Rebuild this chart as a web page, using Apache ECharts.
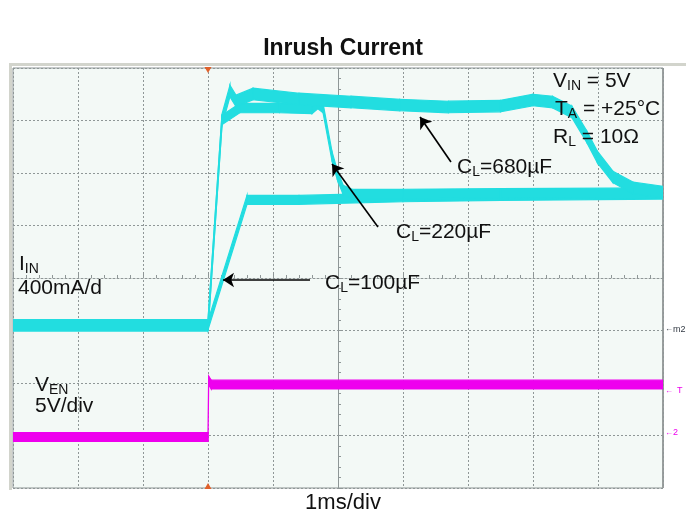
<!DOCTYPE html>
<html><head><meta charset="utf-8">
<script src="https://cdn.jsdelivr.net/npm/echarts@6/dist/echarts.min.js"></script>
<style>html,body{margin:0;padding:0;background:#fff}#c{width:686px;height:529px}</style>
</head><body><div id="c"></div>
<script>
// time in ms relative to enable edge; current in mA; voltage in V
const timeRange = [-3, 7];
const currentRange = [-1200, 2000];   // 400 mA/div
const voltageRange = [-5, 35];        // 5 V/div
const cl100 = [[-3,40],[0,40],[0.6,995],[1.4,995],[3,1015],[4.5,1025],[7,1035]];
const cl220 = [[-3,40],[0,40],[0.215,1604],[0.49,1695],[1.1,1695],[1.6,1688],[1.69,1726],[1.77,1695],[1.91,1322],[1.99,1185],[2.08,1070],[2.22,1040],[3,1040],[4.5,1045],[7,1050]];
const cl680 = [[-3,40],[0,40],[0.215,1604],[0.338,1825],[0.431,1749],[0.692,1802],[1.4,1764],[2.2,1741],[2.95,1718],[3.7,1703],[4.5,1710],[5.0,1756],[5.3,1741],[5.6,1665],[5.83,1474],[5.99,1322],[6.23,1170],[6.54,1086],[7,1055]];
const ven = [[-3,-0.15],[0,-0.15],[0.01,5.25],[0.05,4.85],[7,4.85]];
const noiseHalf = {cl100: 34, cl220: 36, cl680: 44, ven: 0.42}; // half trace thickness

const CYAN = '#22dde0', MAG = '#ee00ee', GRIDC = '#8f9797';
const FONT = '"Liberation Sans", Arial, sans-serif';

function band(key, data, color, yIdx){
  const h = noiseHalf[key];
  const segs = [];
  for (let i = 0; i < data.length - 1; i++) segs.push([data[i][0], data[i][1], data[i+1][0], data[i+1][1]]);
  return {
    type:'custom', name:key, yAxisIndex:yIdx, data:segs, clip:true, silent:true, z:3,
    encode:{x:[0,2], y:[1,3]},
    renderItem:function(params, api){
      const t0 = api.value(0), v0 = api.value(1), t1 = api.value(2), v1 = api.value(3);
      const pts = [api.coord([t0, v0 + h]), api.coord([t1, v1 + h]), api.coord([t1, v1 - h]), api.coord([t0, v0 - h])];
      return {type:'polygon', shape:{points:pts}, style:{fill:color, stroke:color, lineWidth:1.2}};
    }
  };
}

const series = [
  band('cl100', cl100, CYAN, 0),
  band('cl220', cl220, CYAN, 0),
  band('cl680', cl680, CYAN, 0),
  band('ven', ven, MAG, 1),
  {type:'line', data:[[timeRange[0], 0]], yAxisIndex:0, symbol:'none', lineStyle:{opacity:0}, silent:true, z:20,
    markLine:{silent:true, symbol:['none','arrow'], symbolSize:11, label:{show:false}, z:20,
      lineStyle:{color:'#000', width:1.6, type:'solid'},
      data:[
        [{coord:[3.738,1284]},{coord:[3.262,1627]}],
        [{coord:[2.615,789]},{coord:[1.908,1269]}],
        [{coord:[1.569,385]},{coord:[0.231,385]}]
      ]},
    markPoint:{silent:true, label:{show:false}, itemStyle:{color:'#e0602a'},
      data:[
        {coord:[0, currentRange[1]], symbol:'triangle', symbolRotate:180, symbolSize:[7,6], symbolOffset:[0,2]},
        {coord:[0, currentRange[0]], symbol:'triangle', symbolSize:[7,6], symbolOffset:[0,-2]}
      ]}
  }
];

const dashed = {color:GRIDC, type:[2,2], width:1};
const sub = function(main, s, rest){ return '{a|' + main + '}{s|' + s + '}' + (rest ? '{a|' + rest + '}' : ''); };
const rich = {a:{font:'21px '+FONT, fill:'#111', lineHeight:23}, s:{font:'14px '+FONT, fill:'#111', lineHeight:14, verticalAlign:'bottom'}};
const txt = function(x, y, style){ return {type:'text', x:x, y:y, z:100, silent:true, style:style}; };
const option = {
  animation:false,
  backgroundColor:'#ffffff',
  grid:{left:13, top:68, width:650, height:420, show:true, backgroundColor:'#f3f9f6', borderColor:'#8a9292', borderWidth:1},
  xAxis:[
    {type:'value', min:timeRange[0], max:timeRange[1], interval:1, axisLine:{show:false}, axisTick:{show:false}, axisLabel:{show:false}, splitLine:{show:true, lineStyle:dashed}},
    {type:'value', min:timeRange[0], max:timeRange[1], interval:1, position:'bottom', offset:-210,
     axisLine:{show:true, onZero:false, lineStyle:dashed}, axisTick:{show:true, inside:true, length:4, lineStyle:{color:GRIDC}},
     minorTick:{show:true, splitNumber:5, length:3, lineStyle:{color:GRIDC}}, axisLabel:{show:false}, splitLine:{show:false}}
  ],
  yAxis:[
    {type:'value', min:currentRange[0], max:currentRange[1], interval:400, axisLine:{show:false}, axisTick:{show:false}, axisLabel:{show:false}, splitLine:{show:true, lineStyle:dashed}},
    {type:'value', min:voltageRange[0], max:voltageRange[1], interval:5, show:false},
    {type:'value', min:currentRange[0], max:currentRange[1], interval:400, position:'left', offset:-325,
     axisLine:{show:true, onZero:false, lineStyle:dashed}, axisTick:{show:true, inside:true, length:4, lineStyle:{color:GRIDC}},
     minorTick:{show:true, splitNumber:5, length:3, lineStyle:{color:GRIDC}}, axisLabel:{show:false}, splitLine:{show:false}}
  ],
  series:series,
  graphic:[
    {type:'line', shape:{x1:10, y1:64.5, x2:686, y2:64.5}, style:{stroke:'#d2d4cc', lineWidth:3}, silent:true},
    {type:'line', shape:{x1:10.5, y1:63, x2:10.5, y2:490}, style:{stroke:'#d2d4cc', lineWidth:3}, silent:true},
    {type:'line', shape:{x1:663, y1:68, x2:663, y2:488}, style:{stroke:'#9a9e9e', lineWidth:2}, silent:true},
    {type:'text', left:'center', top:37, style:{text:'Inrush Current', font:'bold 23px '+FONT, fill:'#111'}},
    {type:'text', left:'center', top:492, style:{text:'1ms/div', font:'22px '+FONT, fill:'#111'}},
    txt(553, 70, {text:sub('V','IN',' = 5V'), rich:rich}),
    txt(555, 98, {text:sub('T','A',' = +25°C'), rich:rich}),
    txt(553, 126, {text:sub('R','L',' = 10Ω'), rich:rich}),
    txt(457, 156, {text:sub('C','L','=680µF'), rich:rich}),
    txt(396, 221, {text:sub('C','L','=220µF'), rich:rich}),
    txt(325, 272, {text:sub('C','L','=100µF'), rich:rich}),
    txt(19, 253, {text:sub('I','IN'), rich:rich}),
    txt(18, 278, {text:'400mA/d', font:'21px '+FONT, fill:'#111'}),
    txt(35, 374, {text:sub('V','EN'), rich:rich}),
    txt(35, 396, {text:'5V/div', font:'21px '+FONT, fill:'#111'}),
    txt(665, 325, {text:'←', font:'8px '+FONT, fill:'#333a44'}),
    txt(673, 325, {text:'m2', font:'9px '+FONT, fill:'#333a44'}),
    txt(665, 387, {text:'←', font:'8px '+FONT, fill:MAG}),
    txt(677, 386, {text:'T', font:'9px '+FONT, fill:MAG}),
    txt(665, 429, {text:'←', font:'8px '+FONT, fill:MAG}),
    txt(673, 428, {text:'2', font:'9px '+FONT, fill:MAG})
  ]
};
echarts.init(document.getElementById('c'), null, {renderer:'canvas'}).setOption(option);
</script>
</body></html>
